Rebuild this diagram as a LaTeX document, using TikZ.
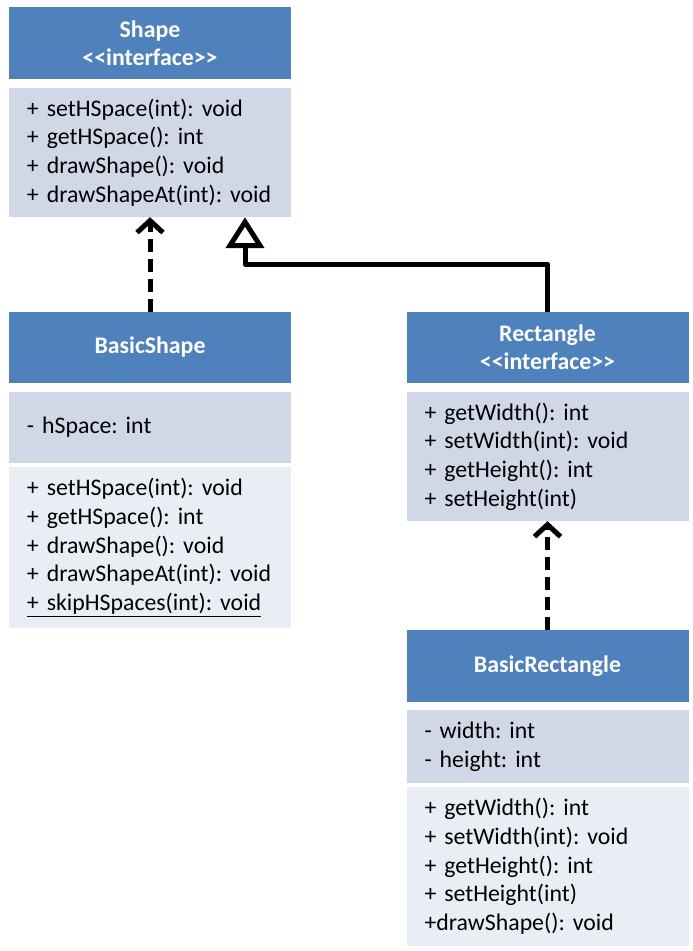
\documentclass[tikz,border=0pt]{standalone}
\usepackage{fontspec}
\setmainfont{Carlito}
\usetikzlibrary{arrows.meta}
\frenchspacing
\definecolor{hblue}{RGB}{79,129,189}
\definecolor{bodyA}{RGB}{208,216,232}
\definecolor{bodyB}{RGB}{233,237,244}
\tikzset{
  hdr/.style={fill=hblue, text=white, minimum width=282pt, inner sep=0pt, align=center,
    font=\fontsize{23.8pt}{28pt}\selectfont\bfseries\frenchspacing},
  bodybox/.style={inner xsep=18pt, inner ysep=0pt, text width=246pt, align=left,
    font=\fontsize{23.8pt}{28.7pt}\selectfont\frenchspacing},
  attrbox/.style={bodybox, fill=bodyA},
  methbox/.style={bodybox, fill=bodyB},
  dep/.style={line width=5pt, dash pattern=on 13pt off 7pt,
    -{Straight Barb[length=12pt,width=26pt]}},
  inh/.style={line width=5pt, line join=round,
    -{Triangle[open,length=31pt,width=38pt]}}
}
\begin{document}
\begin{tikzpicture}[x=1pt,y=-1pt]
\useasboundingbox (0,0) rectangle (693,951);
% Shape
\node[hdr, minimum height=72pt] (sh) at (150,43) {Shape\\<{}<interface>{}>};
\node[attrbox, minimum height=129pt] (sb) at (150,152.5)
  {+ setHSpace(int): void\\+ getHSpace(): int\\+ drawShape(): void\\+ drawShapeAt(int): void};
% BasicShape
\node[hdr, minimum height=71pt] (bsh) at (150,347.5) {BasicShape};
\node[attrbox, minimum height=71pt] (bsa) at (150,427.5) {- hSpace: int};
\node[methbox, minimum height=161pt] (bsm) at (150,547.5)
  {+ setHSpace(int): void\\+ getHSpace(): int\\+ drawShape(): void\\+ drawShapeAt(int): void\\\underline{+ skipHSpaces(int): void}};
% Rectangle
\node[hdr, minimum height=71pt] (rh) at (547.5,347.5) {Rectangle\\<{}<interface>{}>};
\node[attrbox, minimum height=129pt] (rb) at (547.5,456.5)
  {+ getWidth(): int\\+ setWidth(int): void\\+ getHeight(): int\\+ setHeight(int)};
% BasicRectangle
\node[hdr, minimum height=72pt] (brh) at (547.5,666) {BasicRectangle};
\node[attrbox, minimum height=73pt] (bra) at (547.5,746.5) {- width: int\\- height: int};
\node[methbox, minimum height=159pt] (brm) at (547.5,866.5)
  {+ getWidth(): int\\+ setWidth(int): void\\+ getHeight(): int\\+ setHeight(int)\\+drawShape(): void};
% connectors
\draw[dep] (bsh.north) -- (sb.south);
\draw[dep] (brh.north) -- (rb.south);
\coordinate (bend) at (245,264);
\draw[inh] (rh.north) |- (bend) -- (bend |- sb.south);
\end{tikzpicture}
\end{document}
